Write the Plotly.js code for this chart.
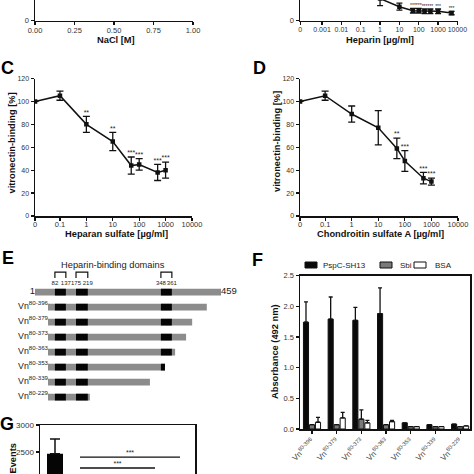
<!DOCTYPE html>
<html><head><meta charset="utf-8">
<script src="https://cdn.plot.ly/plotly-3.0.1.min.js"></script>
<style>html,body{margin:0;padding:0;background:#fff}#chart{width:474px;height:474px}</style>
</head><body><div id="chart"></div>
<script>
// ================= DATA =================
// Panel A (NaCl) - only the bottom of the axis is visible
const naclTicks = [0, 0.25, 0.5, 0.75, 1.0];
const naclTickLabels = ['0.00', '0.25', '0.50', '0.75', '1.00'];

// Panel B (Heparin) - bottom part visible
const heparinConc = [1, 10, 50, 100, 200, 400, 1000, 5000];
const heparinBinding = [19, 12, 8.5, 8.5, 8, 8, 8, 6.5];
const heparinSEM = [6, 3, 2, 2, 2, 2, 2, 1.5];
const heparinStars = ['', '', '***', '***', '***', '***', '***', '***'];
const heparinTickVals = [0, 0.001, 0.01, 0.1, 1, 10, 100, 1000, 10000];
const heparinTickLabels = ['0', '0.001', '0.01', '0.1', '1', '10', '100', '1000', '10000'];

// Panel C (Heparan sulfate)
const hsConc = [0, 0.1, 1, 10, 50, 100, 500, 1000];
const hsBinding = [100, 105, 80, 65, 44, 45, 38, 40];
const hsSEM = [0, 4, 7, 8, 7.5, 5, 7, 7];
const hsStars = ['', '', '**', '**', '***', '***', '***', '***'];

// Panel D (Chondroitin sulfate A)
const csaConc = [0, 0.1, 1, 10, 50, 100, 500, 1000];
const csaBinding = [100, 105, 89, 77, 59, 48, 33, 30];
const csaSEM = [0, 4, 7, 15, 9, 9, 5, 3];
const csaStars = ['', '', '', '', '**', '***', '***', '***'];
const concTickVals = [0, 0.1, 1, 10, 100, 1000, 10000];
const concTickLabels = ['0', '0.1', '1', '10', '100', '1000', '10000'];
const bindingTicks = [0, 20, 40, 60, 80, 100, 120];

// Panel E (construct schematic)
const proteinStart = 1;
const proteinEnd = 459;
const constructNames = ['Vn<sup>80-396</sup>', 'Vn<sup>80-379</sup>', 'Vn<sup>80-373</sup>', 'Vn<sup>80-363</sup>', 'Vn<sup>80-353</sup>', 'Vn<sup>80-339</sup>', 'Vn<sup>80-229</sup>'];
const constructStart = [80, 80, 80, 80, 80, 80, 80];
const constructEnd = [396, 379, 373, 363, 353, 339, 229];
const domainStart = [82, 175, 348];
const domainEnd = [137, 219, 361];
// schematic (not to scale) mapping: residue number -> drawing unit
const schemeAA   = [1, 80, 82, 137, 175, 219, 229, 339, 348, 353, 361, 363, 373, 379, 396, 459];
const schemeUnit = [1, 33, 50, 77, 102, 131, 136, 284, 311, 321, 338, 346, 373, 388, 424, 459];

// Panel F (ELISA)
const fCategories = ['Vn<sup>80-396</sup>', 'Vn<sup>80-379</sup>', 'Vn<sup>80-373</sup>', 'Vn<sup>80-363</sup>', 'Vn<sup>80-353</sup>', 'Vn<sup>80-339</sup>', 'Vn<sup>80-229</sup>'];
const fSeries = ['PspC-SH13', 'Sbi', 'BSA'];
const pspcAbs = [1.74, 1.79, 1.77, 1.88, 0.10, 0.07, 0.08];
const pspcSEM = [0.33, 0.36, 0.21, 0.42, 0, 0, 0];
const sbiAbs = [0.07, 0.07, 0.16, 0.07, 0.04, 0.04, 0.04];
const sbiSEM = [0, 0, 0.15, 0, 0, 0, 0];
const bsaAbs = [0.11, 0.18, 0.10, 0.12, 0.04, 0.04, 0.05];
const bsaSEM = [0.08, 0.09, 0.04, 0.02, 0, 0, 0];
const absTicks = [0, 0.5, 1.0, 1.5, 2.0, 2.5];

// Panel G (events) - only the top is visible
const gEvents = [2470, null, null, null, null, null];
const gSEM = [270, 0, 0, 0, 0, 0];
const gTicks = [2000, 2500, 3000];
const sigFrom = [1, 1, 1];
const sigTo = [5, 4, 3];
const sigLevel = [2407, 2204, 2000];
const sigText = ['***', '***', '***'];

// ================= HELPERS =================
const W = 474, H = 474;
const PX = v => v / W;
const PY = v => 1 - v / H;
const FAM = 'Liberation Sans, Arial, Helvetica, sans-serif';
const tickFont = {family: FAM, size: 7.5, color: '#333'};
const titleFont = {family: FAM, size: 9.3, color: '#111', weight: 'bold'};

function scheme(aa) {
  for (let i = 0; i < schemeAA.length - 1; i++) {
    if (aa <= schemeAA[i + 1]) {
      const t = (aa - schemeAA[i]) / (schemeAA[i + 1] - schemeAA[i]);
      return schemeUnit[i] + t * (schemeUnit[i + 1] - schemeUnit[i]);
    }
  }
  return schemeUnit[schemeUnit.length - 1];
}
function ax(extra) {
  return Object.assign({
    showline: true, linecolor: '#111', linewidth: 1.5,
    ticks: 'outside', ticklen: 3, tickwidth: 1.2, tickcolor: '#111', tickangle: 0,
    tickfont: tickFont, showgrid: false, zeroline: false, fixedrange: true
  }, extra);
}
// keep only points that carry a significance label
function starPoints(xs, ys, labels) {
  const o = {x: [], y: [], t: []};
  labels.forEach((s, i) => { if (s) { o.x.push(xs[i]); o.y.push(ys[i]); o.t.push(s); } });
  return o;
}
// log-axis ranges (0 is drawn at the left end of the axis)
const bRange = [-4.14, 4.03];
const cdRange = [-1.945, 4.0];
const zeroB = Math.pow(10, bRange[0] + 0.005);
const zeroCD = Math.pow(10, cdRange[0] + 0.003);
const mapB = v => v === 0 ? zeroB : v;
const mapCD = v => v === 0 ? zeroCD : v;

const traces = [];
const black = '#111';
const starFont = {family: FAM, size: 7, color: '#222'};

// A: axes only
traces.push({x: [null], y: [null], xaxis: 'x', yaxis: 'y', mode: 'markers', showlegend: false});

// B
traces.push({
  x: heparinConc, y: heparinBinding, xaxis: 'x2', yaxis: 'y2', mode: 'lines+markers',
  line: {color: black, width: 1.5}, marker: {color: black, size: 4.5, symbol: 'square'},
  error_y: {type: 'data', array: heparinSEM, color: black, thickness: 1.3, width: 3},
  showlegend: false
});
(function () {
  const sp = starPoints(heparinConc, heparinBinding.map((v, i) => v + heparinSEM[i]), heparinStars);
  traces.push({x: sp.x, y: sp.y, text: sp.t, xaxis: 'x2', yaxis: 'y2', mode: 'text',
    textposition: 'top center', textfont: {family: FAM, size: 5, color: '#222'}, showlegend: false});
})();

// C and D
function dosePanel(conc, val, sem, stars, xa, ya) {
  traces.push({
    x: conc.map(mapCD), y: val, xaxis: xa, yaxis: ya, mode: 'lines+markers',
    line: {color: black, width: 1.5}, marker: {color: black, size: 4.5, symbol: 'square'},
    error_y: {type: 'data', array: sem, color: black, thickness: 1.3, width: 3.5},
    showlegend: false
  });
  const sp = starPoints(conc.map(mapCD), val.map((v, i) => v + sem[i]), stars);
  traces.push({
    x: sp.x, y: sp.y, text: sp.t, xaxis: xa, yaxis: ya, mode: 'text', textposition: 'top center',
    textfont: starFont, showlegend: false, cliponaxis: false
  });
}
dosePanel(hsConc, hsBinding, hsSEM, hsStars, 'x3', 'y3');
dosePanel(csaConc, csaBinding, csaSEM, csaStars, 'x4', 'y4');

// E schematic
const rowIdx = [0].concat(constructEnd.map((_, i) => i + 1));
const allStart = [proteinStart].concat(constructStart);
const allEnd = [proteinEnd].concat(constructEnd);
traces.push({
  type: 'bar', orientation: 'h', xaxis: 'x5', yaxis: 'y5',
  y: rowIdx, base: allStart.map(scheme), x: allStart.map((s, i) => scheme(allEnd[i]) - scheme(s)),
  width: 0.45, offset: -0.225, marker: {color: '#8c8c8c'}, showlegend: false
});
const dY = [], dB = [], dL = [];
rowIdx.forEach((r, i) => {
  domainStart.forEach((ds, j) => {
    const s = Math.max(ds, allStart[i]);
    const e = Math.min(domainEnd[j], allEnd[i]);
    if (e > s) { dY.push(r); dB.push(scheme(s)); dL.push(scheme(e) - scheme(s)); }
  });
});
traces.push({
  type: 'bar', orientation: 'h', xaxis: 'x5', yaxis: 'y5',
  y: dY, base: dB, x: dL, width: 0.45, offset: -0.225,
  marker: {color: '#050505'}, showlegend: false
});
const eLabelFont = {family: FAM, size: 8.8, color: '#222'};
traces.push({
  x: constructStart.map(scheme), y: constructEnd.map((_, i) => i + 1), text: constructNames,
  xaxis: 'x5', yaxis: 'y5', mode: 'text', textposition: 'middle left',
  textfont: eLabelFont, showlegend: false, cliponaxis: false
});
traces.push({
  x: [scheme(proteinStart)], y: [0], text: [String(proteinStart)], xaxis: 'x5', yaxis: 'y5',
  mode: 'text', textposition: 'middle left', textfont: {family: FAM, size: 9.5, color: '#222'},
  showlegend: false, cliponaxis: false
});
traces.push({
  x: [scheme(proteinEnd)], y: [0], text: [String(proteinEnd)], xaxis: 'x5', yaxis: 'y5',
  mode: 'text', textposition: 'middle right', textfont: {family: FAM, size: 9.5, color: '#222'},
  showlegend: false, cliponaxis: false
});
// brackets over heparin-binding domains
const brX = [], brY = [];
domainStart.forEach((ds, j) => {
  const a = scheme(ds), b = scheme(domainEnd[j]);
  brX.push(a, a, b, b, null); brY.push(-0.93, -1.33, -1.33, -0.93, null);
});
traces.push({
  x: brX, y: brY, xaxis: 'x5', yaxis: 'y5', mode: 'lines',
  line: {color: black, width: 1.2}, showlegend: false, cliponaxis: false
});
const bnX = [], bnT = [];
domainStart.forEach((ds, j) => { bnX.push(scheme(ds), scheme(domainEnd[j])); bnT.push(String(ds), String(domainEnd[j])); });
traces.push({
  x: bnX, y: bnX.map(() => -0.6), text: bnT, xaxis: 'x5', yaxis: 'y5', mode: 'text',
  textposition: 'middle center', textfont: {family: FAM, size: 6, color: '#222'},
  showlegend: false, cliponaxis: false
});

// F bars
const fIdx = fCategories.map((_, i) => i);
const fColors = ['#0a0a0a', '#7a7a7a', '#ffffff'];
[[pspcAbs, pspcSEM], [sbiAbs, sbiSEM], [bsaAbs, bsaSEM]].forEach((d, k) => {
  traces.push({
    type: 'bar', x: fIdx, y: d[0], name: fSeries[k], xaxis: 'x6', yaxis: 'y6',
    marker: {color: fColors[k], line: {color: black, width: 1}},
    error_y: {type: 'data', symmetric: false, array: d[1], arrayminus: d[1].map(() => 0),
      color: black, thickness: 1.3, width: 2},
    showlegend: false
  });
});

// G bars
traces.push({
  type: 'bar', x: gEvents.map((_, i) => i), y: gEvents, xaxis: 'x7', yaxis: 'y7',
  width: 0.64, offset: -0.32, marker: {color: '#050505'},
  error_y: {type: 'data', symmetric: false, array: gSEM, arrayminus: gSEM.map(() => 0),
    color: black, thickness: 1.5, width: 5},
  showlegend: false
});
const sgX = [], sgY = [], stX = [], stY = [];
sigFrom.forEach((f, i) => {
  sgX.push(f, sigTo[i], null); sgY.push(sigLevel[i], sigLevel[i], null);
  stX.push((f + sigTo[i]) / 2); stY.push(sigLevel[i]);
});
traces.push({
  x: sgX, y: sgY, xaxis: 'x7', yaxis: 'y7', mode: 'lines',
  line: {color: black, width: 1.3}, showlegend: false
});
traces.push({
  x: stX, y: stY, text: sigText, xaxis: 'x7', yaxis: 'y7', mode: 'text',
  textposition: 'top center', textfont: starFont,
  showlegend: false, cliponaxis: false
});

// ================= LAYOUT =================
const layout = {
  width: W, height: H, margin: {l: 0, r: 0, t: 0, b: 0},
  paper_bgcolor: '#fff', plot_bgcolor: 'rgba(0,0,0,0)', showlegend: false,
  barmode: 'group', bargap: 0.27, bargroupgap: 0.15,
  font: {family: FAM},
  // A
  xaxis: ax({domain: [PX(35), PX(193)], anchor: 'y', range: [0, 1], tickvals: naclTicks, ticktext: naclTickLabels, ticklabelstandoff: -1}),
  yaxis: ax({domain: [PY(20.5), 1], anchor: 'x', range: [0, 17.8], tickvals: [0], ticktext: ['0']}),
  // B
  xaxis2: ax({domain: [PX(300), PX(458)], anchor: 'y2', type: 'log', range: bRange, ticklabelstandoff: -1,
    tickvals: heparinTickVals.map(mapB), ticktext: heparinTickLabels, tickfont: {family: FAM, size: 7, color: '#333'}}),
  yaxis2: ax({domain: [PY(20.5), 1], anchor: 'x2', range: [0, 17.8], tickvals: [0], ticktext: ['0']}),
  // C
  xaxis3: ax({domain: [PX(35), PX(192)], anchor: 'y3', type: 'log', range: cdRange, ticklabelstandoff: -3,
    tickvals: concTickVals.map(mapCD), ticktext: concTickLabels, ticklen: 3}),
  yaxis3: ax({domain: [PY(216), PY(78.5)], anchor: 'x3', range: [0, 120], tickvals: bindingTicks, tickfont: {family: FAM, size: 7, color: '#333'}}),
  // D
  xaxis4: ax({domain: [PX(300), PX(458)], anchor: 'y4', type: 'log', range: cdRange, ticklabelstandoff: -3,
    tickvals: concTickVals.map(mapCD), ticktext: concTickLabels, ticklen: 3}),
  yaxis4: ax({domain: [PY(216), PY(78.5)], anchor: 'x4', range: [0, 120], tickvals: bindingTicks, tickfont: {family: FAM, size: 7, color: '#333'}}),
  // E
  xaxis5: {domain: [PX(35), PX(221)], anchor: 'y5', range: [scheme(proteinStart), scheme(proteinEnd)], visible: false, fixedrange: true},
  yaxis5: {domain: [PY(404.5), PY(256)], anchor: 'x5', range: [7.5, -2.4], visible: false, fixedrange: true},
  // F
  xaxis6: ax({domain: [PX(300), PX(470)], anchor: 'y6', range: [-0.486, 6.4], tickvals: fIdx, ticktext: fCategories,
    tickangle: -45, mirror: true, tickfont: {family: FAM, size: 8, color: '#444'}}),
  yaxis6: ax({domain: [PY(429), PY(275.5)], anchor: 'x6', range: [0, 2.5], tickvals: absTicks, tickformat: '.1f', mirror: true}),
  // G
  xaxis7: ax({domain: [PX(40), PX(195)], anchor: 'y7', side: 'top', range: [-0.6, 5.6], ticks: '', showticklabels: false}),
  yaxis7: ax({domain: [0, PY(425)], anchor: 'x7', range: [2093, 3000], tickvals: gTicks, mirror: true,
    tickfont: {family: FAM, size: 8, color: '#333'}}),
  annotations: [],
  shapes: []
};

function ann(text, x, y, opts) {
  layout.annotations.push(Object.assign({
    text: text, x: PX(x), y: PY(y), xref: 'paper', yref: 'paper', showarrow: false,
    xanchor: 'center', yanchor: 'middle', font: titleFont
  }, opts || {}));
}
// panel letters
const letterFont = {family: FAM, size: 18, color: '#000', weight: 'bold'};
ann('C', 7.5, 68.5, {font: letterFont});
ann('D', 259.5, 68.5, {font: letterFont});
ann('E', 7.5, 257.5, {font: letterFont});
ann('F', 257, 260, {font: letterFont});
ann('G', 6.5, 424, {font: letterFont});
// axis titles
ann('NaCl [M]', 116, 39.5);
ann('Heparin [µg/ml]', 380, 40);
ann('Heparan sulfate [µg/ml]', 116, 234);
ann('Chondroitin sulfate A [µg/ml]', 380, 234);
ann('vitronectin-binding [%]', 11.5, 143, {textangle: -90});
ann('vitronectin-binding [%]', 277, 142, {textangle: -90});
ann('Absorbance (492 nm)', 275, 352, {textangle: -90});
ann('Events', 12, 441, {textangle: -90, yanchor: 'top'});
ann('Heparin-binding domains', 113, 265, {font: {family: FAM, size: 9.3, color: '#222'}});
// F legend
const legSwatchX = [305, 380, 414];
const legTextX = [321, 398, 433];
fSeries.forEach((n, k) => {
  layout.shapes.push({type: 'rect', xref: 'paper', yref: 'paper',
    x0: PX(legSwatchX[k]), x1: PX(legSwatchX[k] + 12), y0: PY(268), y1: PY(262),
    fillcolor: fColors[k], line: {color: black, width: 1}});
  ann(n, legTextX[k], 265, {xanchor: 'left', font: {family: FAM, size: 8, color: '#222'}});
});

Plotly.newPlot('chart', traces, layout, {staticPlot: true, displayModeBar: false});
</script>
</body></html>
